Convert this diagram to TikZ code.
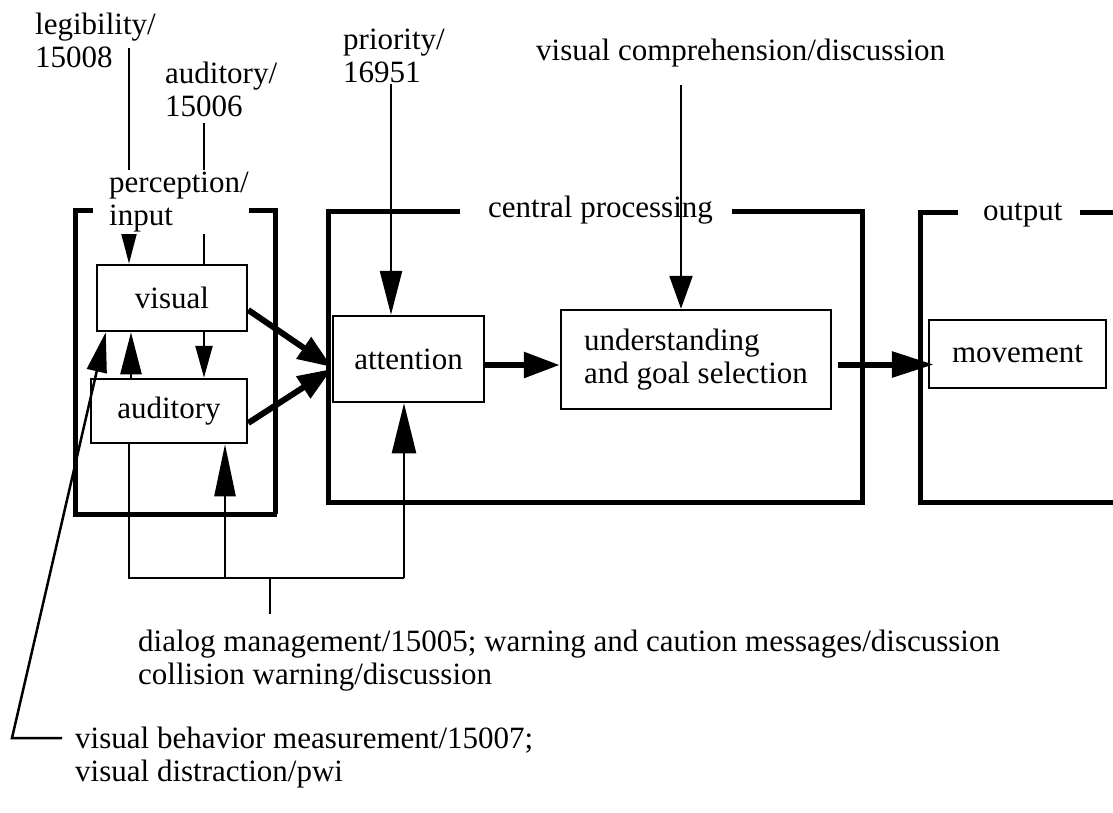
\documentclass[tikz,border=0pt]{standalone}
\usepackage{fontspec}
\setmainfont{Liberation Serif}
\usetikzlibrary{arrows.meta}
\begin{document}
\begin{tikzpicture}[x=1pt,y=-1pt,
  every node/.style={font=\fontsize{31}{33}\selectfont, inner sep=0pt},
  lbl/.style={anchor=north west, align=left},
  blk/.style={draw, line width=2.5pt, inner sep=0pt},
  frm/.style={line width=5pt},
  conn/.style={line width=2.5pt},
  heavy/.style={line width=6pt},
  tipA/.style 2 args={-{Triangle[length=#1,width=#2]}},
  tipB/.style={-{Triangle[length=#1,width=25pt]}}
]
\useasboundingbox (0,0) rectangle (1113,812);

% boxes
\node[blk, minimum width=150pt, minimum height=66pt] (visual) at (172,298) {visual};
\node[blk, minimum width=156pt, minimum height=64pt] (auditory) at (169,411) {auditory};
\node[blk, minimum width=151pt, minimum height=86pt] (attention) at (408.5,359) {attention};
\node[blk, minimum width=270pt, minimum height=99pt, align=left] (understanding) at (696,359.5) {understanding\\and goal selection};
\node[blk, minimum width=177pt, minimum height=68pt] (movement) at (1017.5,354) {movement};

% frames
\draw[frm] (93,210) -- (75,210) -- (75,514) -- (277,514);
\draw[frm] (275,514) -- (275,210) -- (248,210);
\draw[frm] (460,211) -- (328,211) -- (328,502) -- (862,502) -- (862,211) -- (732,211);
\draw[frm] (958,212) -- (920,212) -- (920,502) -- (1113,502);
\draw[frm] (1080,212) -- (1113,212);

% top labels
\node[lbl] (leg) at (35,13) {legibility/\\15008};
\node[lbl] (audlbl) at (165,62) {auditory/\\15006};
\node[lbl] (prio) at (343,29) {priority/\\16951};
\node[anchor=base west] (vc) at (536,60) {visual comprehension/discussion};
\node[anchor=base west] (cp) at (488,217) {central processing};
\node[anchor=base west] (out) at (983,220) {output};

% free ends
\coordinate (legtop) at (129,48);
\coordinate (audtop) at (204,123);
\coordinate (priotop) at (391,84);
\coordinate (vctop) at (681,85);
\coordinate (ua) at (131,0);
\coordinate (bL) at (129,578);
\coordinate (bM) at (225,578);
\coordinate (bR) at (404,578);
\coordinate (bS) at (270,578);
\coordinate (bE) at (270,614);
\coordinate (vline) at (62,738);
\coordinate (vbend) at (12,738);

% connectors from labels
\draw[conn, tipA={32pt}{16pt}] (legtop) -- (legtop |- visual.north);
\draw[conn] (audtop) -- (audtop |- visual.north);
\draw[conn, tipA={44pt}{22pt}] (priotop) -- (priotop |- attention.north);
\draw[conn, tipA={33pt}{23pt}] (vctop) -- (vctop |- understanding.north);

% perception label (covers lines)
\node[lbl, fill=white, inner ysep=2pt] (perc) at (109,170) {perception/\\input};

% inner arrows
\draw[conn, tipA={32pt}{17pt}] (audtop |- visual.south) -- (audtop |- auditory.north);
\draw[conn, tipA={42pt}{21pt}] (ua |- auditory.north) -- (ua |- visual.south);
\draw[heavy, tipB=34pt] ([yshift=-12pt]visual.east) -- ([yshift=-8pt]attention.west);
\draw[heavy, tipB=34pt] ([yshift=-12pt]auditory.east) -- ([yshift=-10pt]attention.west);
\draw[heavy, tipB=36pt] ([yshift=-6pt]attention.east) -- ([yshift=-6pt]attention.east -| understanding.west);
\draw[heavy, tipB=42pt] ([xshift=6pt,yshift=-5pt]understanding.east) -- ([xshift=6pt,yshift=-5pt]understanding.east -| movement.west);

% bottom bus
\draw[conn] (bL |- auditory.south) -- (bL) -- (bR);
\draw[conn, tipA={50pt}{24pt}] (bR) -- (bR |- attention.south);
\draw[conn, tipA={52pt}{21pt}] (bM) -- (bM |- auditory.south);
\draw[conn] (bS) -- (bE);

% bottom labels
\node[lbl] (dlg) at (138,630) {dialog management/15005; warning and caution messages/discussion\\collision warning/discussion};
\node[lbl] (vb) at (75,727) {visual behavior measurement/15007;\\visual distraction/pwi};

\draw[conn, tipA={40pt}{20pt}] (vline) -- (vbend) -- ([xshift=10pt]visual.south west);
\end{tikzpicture}
\end{document}
